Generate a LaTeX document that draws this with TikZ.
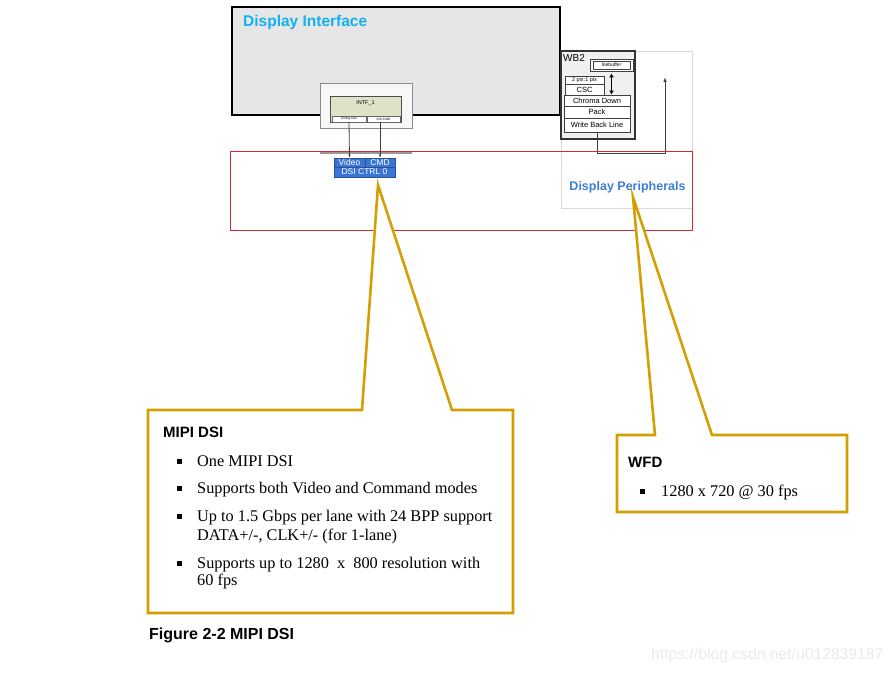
\documentclass[tikz,border=0pt]{standalone}
\usepackage{fontspec}
\setmainfont{Liberation Serif}
\setsansfont{Liberation Sans}
\usetikzlibrary{positioning,arrows.meta}

\definecolor{difill}{HTML}{E6E6E6}
\definecolor{dicyan}{HTML}{12B0EE}
\definecolor{dpblue}{HTML}{3C7ED6}
\definecolor{dsiblue}{HTML}{3A74D4}
\definecolor{calgold}{HTML}{D3A003}
\definecolor{frred}{HTML}{D42A2A}
\definecolor{intfgreen}{HTML}{DEE3C8}

\tikzset{
  blk/.style={draw, inner sep=0pt, font=\sffamily},
  wbcell/.style={blk, draw=black!75, fill=white, line width=0.9pt,
    font=\sffamily\fontsize{7.5}{8}\selectfont},
  dsicell/.style={blk, draw=dsiblue!70!black, fill=dsiblue, text=white,
    line width=0.6pt, font=\sffamily\fontsize{8.5}{9}\selectfont},
  callout/.style={draw=calgold, fill=white, line width=2.6pt, line join=miter},
  hd/.style={font=\sffamily\bfseries\fontsize{15}{17}\selectfont, inner sep=0pt},
  item/.style={font=\fontsize{16.3}{18}\selectfont, inner sep=0pt},
  sq/.style={fill=black, minimum size=5pt, inner sep=0pt}
}

\begin{document}
\begin{tikzpicture}[x=1pt, y=-1pt]

  \fill[white] (0,0) rectangle (894,674);
  \useasboundingbox (0,0) rectangle (894,674);

  \node[blk, draw=black!15, minimum width=131, minimum height=157] (dp) at (626.5,129.5) {};
  \node[font=\sffamily\bfseries\fontsize{12.5}{15}\selectfont, text=dpblue, inner sep=0pt] (dplabel) at (627.5,187) {Display Peripherals};

  \node[blk, draw=black, fill=difill, line width=1.4pt, minimum width=328, minimum height=108] (di) at (396,61) {};
  \node[font=\sffamily\bfseries\fontsize{15.5}{17}\selectfont, text=dicyan, inner sep=0pt, anchor=base west] (dilabel) at (243,27) {Display Interface};

  \node[blk, draw=black!45, fill=black!3, line width=0.9pt, minimum width=92, minimum height=45] (intfout) at (366,105.5) {};
  \node[blk, draw=black!70, fill=intfgreen, line width=1pt, minimum width=71, minimum height=26] (intf) at (365.5,110) {};
  \node[font=\sffamily\fontsize{5.5}{6}\selectfont, inner sep=0pt] (intflabel) at (365.5,103) {INTF\_1};
  \node[blk, draw=black!60, fill=white, line width=0.5pt, minimum width=34, minimum height=6,
    font=\sffamily\fontsize{3.2}{4}\selectfont] (tg) at (349,119) {Timing Gen};
  \node[blk, draw=black!60, fill=white, line width=0.5pt, minimum width=33, minimum height=6,
    font=\sffamily\fontsize{3.2}{4}\selectfont] (dsicmd) at (383.5,119) {DSI CMD};

  \node[blk, draw=black!80, fill=black!6, line width=1.6pt, minimum width=74, minimum height=88] (wb) at (598,95) {};
  \node[font=\sffamily\fontsize{10}{11}\selectfont, inner sep=0pt, anchor=north west] (wblabel) at (563,54) {WB2};
  \node[blk, draw=black!75, fill=white, line width=0.9pt, minimum width=43, minimum height=12] (lnebuf) at (611.5,65) {};
  \node[blk, draw=black!75, fill=white, line width=0.7pt, minimum width=37, minimum height=8,
    font=\sffamily\fontsize{5}{6}\selectfont] (lnebufin) at (611.5,65) {lnebuffer};
  \node[wbcell, minimum width=39, minimum height=8, font=\sffamily\fontsize{5.5}{6}\selectfont] (pix) at (584.5,80) {2 pix:1 pix};
  \node[wbcell, minimum width=39, minimum height=11] (csc) at (584.5,89.5) {CSC};
  \node[wbcell, minimum width=66, minimum height=11] (chroma) at (597,100.5) {Chroma Down};
  \node[wbcell, minimum width=66, minimum height=12] (pack) at (597,112) {Pack};
  \node[wbcell, minimum width=66, minimum height=14] (wbline) at (597,125) {Write Back Line};

  \draw[{Latex[length=4pt,width=5pt]}-{Latex[length=4pt,width=5pt]}, line width=1.3pt] ([yshift=-2pt]lnebuf.south) -- (lnebuf.south |- chroma.north);

  \coordinate (wbret) at (665,77);
  \draw[-{Latex[length=5pt,width=3.5pt]}, black!75, line width=0.9pt] (wbline.south) -- ++(0,21) -| (wbret);

  \node[blk, draw=frred, line width=1pt, minimum width=462, minimum height=78] (ctrlzone) at (461,191) {};
  \draw[black!40, line width=2.5pt] (intfout.south west |- 0,153) -- (intfout.south east |- 0,153);

  \node[dsicell, minimum width=31, minimum height=9] (video) at (349.5,162.5) {Video};
  \node[dsicell, minimum width=30, minimum height=9] (cmd) at (380,162.5) {CMD};
  \node[dsicell, minimum width=61, minimum height=10] (dsictrl) at (364.5,172) {DSI CTRL 0};

  \draw[-{Latex[length=3pt,width=2.5pt]}, black!75, line width=0.8pt] (tg.south) -- (video.north);
  \draw[-{Latex[length=3pt,width=2.5pt]}, black!75, line width=0.8pt] (cmd.north |- dsicmd.south) -- (cmd.north);

  \coordinate (mipitip) at (378,185);
  \draw[callout] (148,410) -- (362,410) -- (mipitip) -- (452,410) -- (513,410) -- (513,613) -- (148,613) -- cycle;

  \coordinate (wfdtip) at (633,197);
  \draw[callout] (617,435) -- (655,435) -- (wfdtip) -- (712,435) -- (847,435) -- (847,512) -- (617,512) -- cycle;

  \node[hd, anchor=base west] (mipihd) at (163,437) {MIPI DSI};
  \foreach \n/\yy/\txt in {a/466/One MIPI DSI,
                          b/493/Supports both Video and Command modes,
                          c/521/Up to 1.5 Gbps per lane with 24 BPP support,
                          d/568/Supports up to 1280\ \ x\ \ 800 resolution with} {
    \node[sq] (bul\n) at (179.5,\yy-5) {};
    \node[item, anchor=base west] (item\n) at (197,\yy) {\txt};
  }
  \node[item, anchor=base west] (itemc2) at (197,540) {DATA+/-, CLK+/- (for 1-lane)};
  \node[item, anchor=base west] (itemd2) at (197,585) {60 fps};

  \node[hd, anchor=base west] (wfdhd) at (628,467) {WFD};
  \node[sq] (bulw) at (642.5,491) {};
  \node[item, anchor=base west] (itemw) at (661,496) {1280 x 720 @ 30 fps};

  \node[hd, font=\sffamily\bfseries\fontsize{16}{18}\selectfont, anchor=base west] (caption) at (149,639) {Figure 2-2 MIPI DSI};

  \node[font=\sffamily\fontsize{15.7}{18}\selectfont, text=black!8, inner sep=0pt, anchor=base west] (wmark) at (651,659) {https://blog.csdn.net/u012839187};

\end{tikzpicture}
\end{document}
